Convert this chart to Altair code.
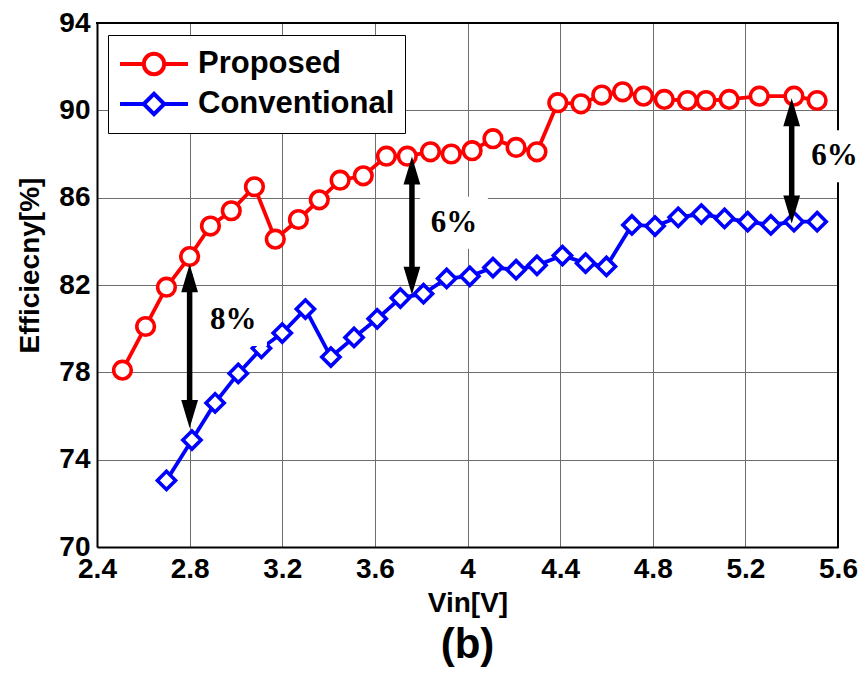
import altair as alt
import pandas as pd

# ---- data ----
prop_x = [2.51, 2.61, 2.70, 2.80, 2.89, 2.98, 3.08, 3.17, 3.27, 3.36, 3.45, 3.55,
          3.65, 3.74, 3.84, 3.93, 4.02, 4.11, 4.21, 4.30, 4.39, 4.49, 4.58, 4.67,
          4.76, 4.85, 4.95, 5.03, 5.13, 5.26, 5.41, 5.51]
prop_y = [78.1, 80.1, 81.9, 83.3, 84.7, 85.4, 86.5, 84.1, 85.0, 85.9, 86.8, 87.0,
          87.9, 87.9, 88.1, 88.0, 88.15, 88.7, 88.3, 88.1, 90.35, 90.3, 90.7, 90.85,
          90.65, 90.5, 90.45, 90.45, 90.5, 90.65, 90.65, 90.45]
conv_x = [2.70, 2.81, 2.91, 3.01, 3.11, 3.20, 3.30, 3.41, 3.51, 3.61, 3.71, 3.81,
          3.91, 4.01, 4.11, 4.21, 4.30, 4.41, 4.51, 4.60, 4.71, 4.81, 4.91, 5.01,
          5.11, 5.21, 5.31, 5.41, 5.51]
conv_y = [73.05, 74.9, 76.6, 77.95, 79.1, 79.8, 80.9, 78.7, 79.6, 80.45, 81.4, 81.6,
          82.3, 82.4, 82.8, 82.7, 82.9, 83.35, 83.0, 82.85, 84.75, 84.7, 85.1, 85.25,
          85.05, 84.9, 84.75, 84.9, 84.9]

series_names = ["Proposed", "Conventional"]
series_colors = ["#ff0000", "#0000ff"]

arrow_x = [2.80, 3.76, 5.40]
arrow_top = [82.95, 87.88, 90.55]
arrow_bot = [75.45, 81.55, 84.82]

label_text = ["8%", "6%", "6%"]
label_x = [2.988, 3.942, 5.585]
label_y = [80.4, 84.85, 87.9]

x_ticks = [2.4, 2.8, 3.2, 3.6, 4.0, 4.4, 4.8, 5.2, 5.6]
y_ticks = [70, 74, 78, 82, 86, 90, 94]
x_range = [2.4, 5.6]
y_range = [70, 94]

# ---- tables ----
df = pd.concat([
    pd.DataFrame({"x": prop_x, "y": prop_y, "series": series_names[0]}),
    pd.DataFrame({"x": conv_x, "y": conv_y, "series": series_names[1]}),
], ignore_index=True)
arrows = pd.DataFrame({"x": arrow_x, "top": arrow_top, "bot": arrow_bot})
labels = pd.DataFrame({"x": label_x, "y": label_y, "text": label_text})

SANS = "Liberation Sans"
SERIF = "Liberation Serif"

xscale = alt.Scale(domain=x_range, nice=False, zero=False)
yscale = alt.Scale(domain=y_range, nice=False, zero=False)

X = alt.X("x:Q", scale=xscale, axis=alt.Axis(
    values=x_ticks, format="~g", title="Vin[V]", ticks=False,
    domain=True, domainColor="black", domainWidth=2,
    labelFlush=False, labelOverlap=False, labelPadding=8,
    titleY=42, titleBaseline="top"))
Y = alt.Y("y:Q", scale=yscale, axis=alt.Axis(
    values=y_ticks, title="Efficiecny[%]", ticks=False,
    domain=True, domainColor="black", domainWidth=2,
    labelOverlap=False, labelPadding=7,
    titleX=-67, titleY=242, titleBaseline="middle", titleAlign="center"))

# top and right frame lines, placed at the ends of the scale domains
frame_top = alt.Chart(labels).mark_rule(color="black", strokeWidth=2, strokeCap="square").encode(
    x=alt.datum(x_range[0], scale=xscale), x2=alt.datum(x_range[1]), y=alt.datum(y_range[1], scale=yscale))
frame_right = alt.Chart(labels).mark_rule(color="black", strokeWidth=2, strokeCap="square").encode(
    x=alt.datum(x_range[1], scale=xscale), y=alt.datum(y_range[0], scale=yscale), y2=alt.datum(y_range[1]))

# legend symbols: a short line with the marker in its middle (circle drawn with Bezier curves)
k = 0.3314
leg_circle = (f"M-2,0H-0.6M0.6,0C0.6,{k} {k},0.6 0,0.6C-{k},0.6 -0.6,{k} -0.6,0"
              f"C-0.6,-{k} -{k},-0.6 0,-0.6C{k},-0.6 0.6,-{k} 0.6,0ZM0.6,0H2")
leg_diamond = "M-2,0H-0.6M-0.6,0L0,-0.6L0.6,0L0,0.6ZM0.6,0H2"
leg = alt.Legend(
    title=None, orient="none", legendX=11, legendY=12,
    labelFont=SANS, labelFontSize=31, labelFontWeight="bold", labelColor="black",
    labelLimit=400, labelOffset=25, symbolSize=1156, symbolOffset=17, symbolStrokeWidth=4,
    strokeColor="black", fillColor="white", padding=10, rowPadding=2,
)
stroke_enc = alt.Stroke("series:N", scale=alt.Scale(domain=series_names, range=series_colors), legend=leg)

lines = alt.Chart(df).mark_line(strokeWidth=3.8).encode(x=X, y=Y, stroke=stroke_enc)

pts_prop = alt.Chart(df).transform_filter(alt.datum.series == series_names[0]).mark_point(
    shape="circle", filled=False, fill="white", strokeWidth=3.6, size=310, opacity=1
).encode(x=X, y=Y, stroke=stroke_enc)
pts_conv = alt.Chart(df).transform_filter(alt.datum.series == series_names[1]).mark_point(
    shape="diamond", filled=False, fill="white", strokeWidth=3.6, size=330, opacity=1
).encode(x=X, y=Y, stroke=stroke_enc)

legend_layer = alt.Chart(df).mark_point(
    filled=False, strokeWidth=4, opacity=0
).encode(
    x=X, y=Y,
    shape=alt.Shape("series:N", scale=alt.Scale(domain=series_names, range=[leg_circle, leg_diamond]), legend=leg),
    stroke=stroke_enc,
)

box_path = "M-1.3,-1H1.3V1H-1.3Z"
boxes = alt.Chart(labels).mark_point(
    shape=box_path, filled=True, color="white", size=2704, opacity=1
).encode(x=X, y=alt.Y("y:Q", scale=yscale))

texts = alt.Chart(labels).mark_text(
    font=SERIF, fontWeight="bold", fontSize=31, align="center", baseline="middle", color="black"
).encode(x=X, y=alt.Y("y:Q", scale=yscale), text="text:N")

shafts = alt.Chart(arrows).mark_rule(
    strokeWidth=5.5, color="black", yOffset=10, y2Offset=-10
).encode(x=X, y=alt.Y("top:Q", scale=yscale), y2="bot:Q")

head_up = "M0,0L0.6,2L-0.6,2Z"
head_down = "M0,0L0.6,-2L-0.6,-2Z"
heads_top = alt.Chart(arrows).mark_point(
    shape=head_up, filled=True, color="black", size=784, opacity=1
).encode(x=X, y=alt.Y("top:Q", scale=yscale))
heads_bot = alt.Chart(arrows).mark_point(
    shape=head_down, filled=True, color="black", size=784, opacity=1
).encode(x=X, y=alt.Y("bot:Q", scale=yscale))

chart = alt.layer(
    frame_top, frame_right, lines, pts_prop, pts_conv, legend_layer,
    boxes, texts, shafts, heads_top, heads_bot
).properties(
    width=741, height=524,
    autosize=alt.AutoSizeParams(type="none"),
    padding={"left": 97, "top": 23, "right": 27, "bottom": 128},
    title=alt.TitleParams("(b)", orient="bottom", font=SANS, fontSize=42,
                          fontWeight="bold", color="black", offset=8, anchor="middle"),
    background="white",
).configure_view(
    stroke=None
).configure_axis(
    labelFont=SANS, labelFontSize=28, labelFontWeight="bold", labelColor="black",
    titleFont=SANS, titleFontSize=28, titleFontWeight="bold", titleColor="black",
    grid=True, gridColor="#6e6e6e", gridWidth=1, gridOpacity=1,
)

chart.save("out.html", embed_options={"renderer": "svg", "actions": False})
